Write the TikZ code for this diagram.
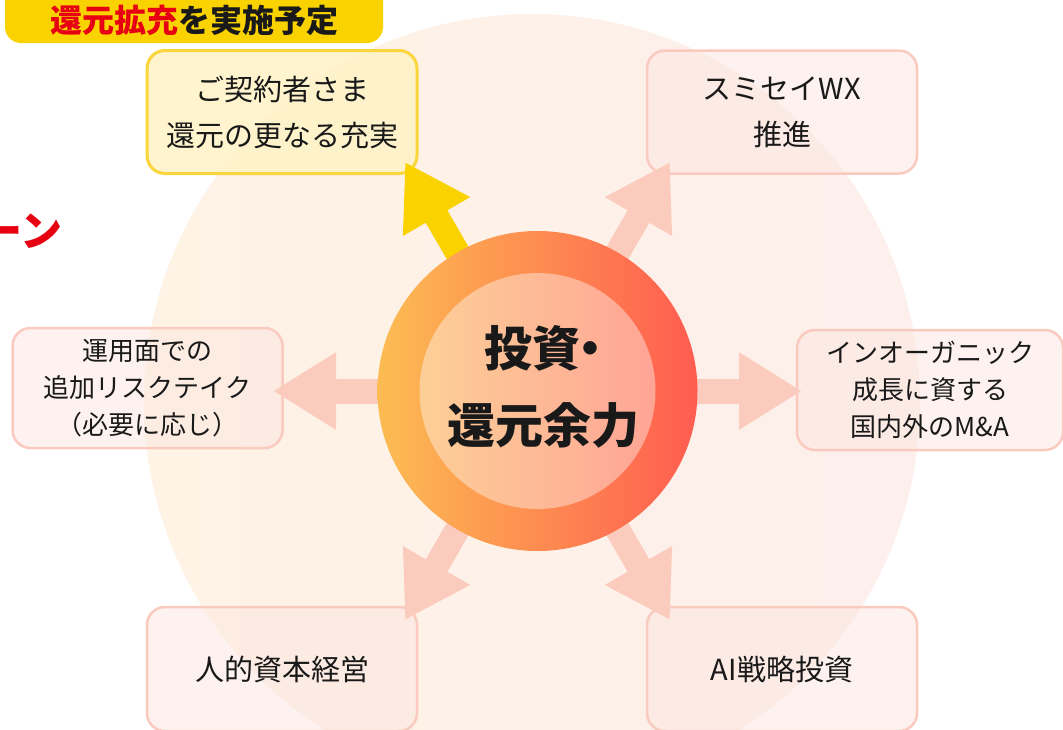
\documentclass[tikz,border=0pt]{standalone}
\usepackage{fontspec}
\setmainfont{Noto Sans CJK JP}
\usetikzlibrary{arrows.meta}
\definecolor{diskL}{RGB}{254,243,229}
\definecolor{diskR}{RGB}{253,239,236}
\definecolor{arrowpink}{RGB}{251,204,190}
\definecolor{boxline}{RGB}{250,202,190}
\definecolor{boxfill}{RGB}{252,230,224}
\definecolor{gold}{RGB}{250,210,0}
\definecolor{goldline}{RGB}{250,214,60}
\definecolor{yfill}{RGB}{255,243,200}
\definecolor{ringL}{RGB}{252,188,82}
\definecolor{ringR}{RGB}{255,92,80}
\definecolor{jred}{RGB}{230,0,18}
\definecolor{ink}{RGB}{25,25,25}
\tikzset{
  pinkbox/.style={draw=boxline, line width=2.5pt, fill=boxfill, fill opacity=0.5, text opacity=1,
    rounded corners=18pt, minimum width=270pt, minimum height=123pt, align=center, text=ink,
    font=\fontsize{29}{46}\selectfont},
  threebox/.style={pinkbox, font=\fontsize{26}{37}\selectfont},
  yellowbox/.style={pinkbox, draw=goldline, line width=3pt, fill=yfill, fill opacity=0.9},
  flow/.style={draw=arrowpink, line width=25pt, -{Triangle[length=63pt,width=73pt]}},
  goldflow/.style={flow, draw=gold},
}
\begin{document}
\begin{tikzpicture}[x=1pt,y=-1pt]
\useasboundingbox (0,0) rectangle (1063,729);
\clip (0,0) rectangle (1063,729);
% faint background disk
\shade[left color=diskL, right color=diskR] (532,402) circle[radius=388];
% top banner
\fill[gold, rounded corners=16pt] (5,-25) rectangle (383,43);
\node[inner sep=0pt, font=\fontsize{32}{32}\selectfont\bfseries, text=ink] (title) at (194,20)
  {\textcolor{jred}{還元拡充}を実施予定};
% fragment at left edge
\node[inner sep=0pt, anchor=west, font=\fontsize{42}{42}\selectfont\bfseries, text=jred] (frag) at (-20,231) {ーン};
% boxes
\node[yellowbox] (refund) at (282,112) {ご契約者さま\\還元の更なる充実};
\node[pinkbox] (wx) at (782,112) {スミセイWX\\推進};
\node[threebox, minimum width=270pt, minimum height=120pt] (risk) at (147.5,388) {運用面での\\追加リスクテイク\\（必要に応じ）};
\node[threebox, minimum width=266pt, minimum height=120pt] (ma) at (930,390) {インオーガニック\\成長に資する\\国内外のM\&A};
\node[pinkbox, minimum height=124pt] (hr) at (282,669) {人的資本経営};
\node[pinkbox, minimum height=124pt] (ai) at (782,669) {AI戦略投資};
% arrows
\coordinate (C) at (537.5,391);
\coordinate (tTL) at (405,162);
\coordinate (tTR) at (670,162);
\coordinate (tL) at (273,391);
\coordinate (tR) at (802,391);
\coordinate (tBL) at (405,620);
\coordinate (tBR) at (670,620);
\draw[flow] (C) -- (tTR);
\draw[flow] (C) -- (tL);
\draw[flow] (C) -- (tR);
\draw[flow] (C) -- (tBL);
\draw[flow] (C) -- (tBR);
\draw[goldflow] (C) -- (tTL);
% central circle
\shade[left color=ringL, right color=ringR] (C) circle[radius=160];
\fill[white, opacity=0.4] (C) circle[radius=118];
\node[align=left, text=ink, font=\fontsize{48}{77}\selectfont\bfseries] (core) at (543,387) {\hspace*{37pt}投資\kern-0.28em・\\還元余力};
\end{tikzpicture}
\end{document}
